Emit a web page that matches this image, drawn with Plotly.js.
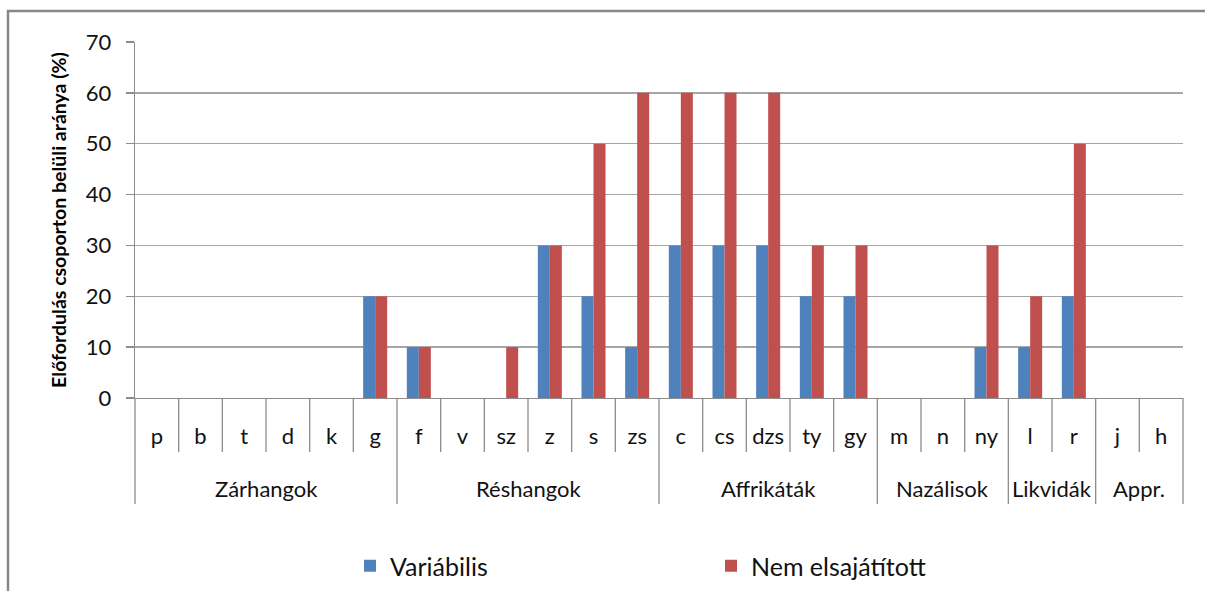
<!DOCTYPE html>
<html>
<head>
<meta charset="utf-8">
<script src="https://cdn.plot.ly/plotly-3.0.1.min.js"></script>
<style>html,body{margin:0;padding:0;background:#fff;}#chart{width:1205px;height:591px;}</style>
</head>
<body>
<div id="chart"></div>
<script>
const categories = ['p','b','t','d','k','g','f','v','sz','z','s','zs','c','cs','dzs','ty','gy','m','n','ny','l','r','j','h'];
const groups = ['Zárhangok','Réshangok','Affrikáták','Nazálisok','Likvidák','Appr.'];
const groupSizes = [6,6,5,3,2,2];
const variabilis = [0,0,0,0,0,20, 10,0,0,30,20,10, 30,30,30,20,20, 0,0,10, 10,20, 0,0];
const nemElsajatitott = [0,0,0,0,0,20, 10,0,10,30,50,60, 60,60,60,30,30, 0,0,30, 20,50, 0,0];
const seriesNames = ['Variábilis','Nem elsajátított'];

const FONT = 'Lato, "Open Sans", sans-serif';
const idx = categories.map((c,i)=>i);
const L=135, R=1183, T=42, B=398;
const plotW = R-L, plotH = B-T;
const px2y = p => (B-p)/plotH;
const px2x = p => (p-L)/plotW;

const shapes = [];
const lineColor = '#8c8c8c';
const bounds = [0];
groupSizes.reduce((a,s)=>{bounds.push(a+s);return a+s;},0);
const n = categories.length;
for(let i=0;i<=n;i++){
  const isGroup = bounds.includes(i);
  shapes.push({type:'line', xref:'paper', yref:'paper',
    x0:i/n, x1:i/n, y0:0, y1: isGroup ? -106/plotH : -54/plotH,
    line:{color:lineColor, width:1.3}});
}
// outer border
shapes.push({type:'rect', xref:'paper', yref:'paper', x0:px2x(8), x1:px2x(1260), y0:px2y(640), y1:px2y(11),
  line:{color:'#878787', width:2.5}, fillcolor:'rgba(0,0,0,0)'});

const annotations = [];
let start=0;
groups.forEach((g,k)=>{
  const c = start + (groupSizes[k]-1)/2;
  annotations.push({x:c, xref:'x', y:0, yref:'paper', yshift:-90, text:g, showarrow:false,
    font:{family:FONT, size:22, color:'#111'}, yanchor:'middle', xanchor:'center'});
  start += groupSizes[k];
});

const data = [
  {type:'bar', name:seriesNames[0], x:idx, y:variabilis, marker:{color:'#4F81BD', line:{width:0}}},
  {type:'bar', name:seriesNames[1], x:idx, y:nemElsajatitott, marker:{color:'#C0504D', line:{width:0}}}
];

const layout = {
  width:1205, height:591,
  margin:{l:L, r:1205-R, t:T, b:591-B, pad:0, autoexpand:false},
  paper_bgcolor:'#fff', plot_bgcolor:'#fff',
  barmode:'group', bargap:0.45, bargroupgap:0,
  showlegend:true,
  legend:{orientation:'h', x:px2x(350), xanchor:'left', y:px2y(566), yanchor:'middle',
    font:{family:FONT, size:25, color:'#111'}, entrywidth:316, entrywidthmode:'pixels',
    bgcolor:'rgba(0,0,0,0)', traceorder:'normal'},
  xaxis:{range:[-0.5, n-0.5], tickvals:idx, ticktext:categories, automargin:false,
    ticks:'', showgrid:false, zeroline:false, showline:true, linecolor:lineColor, linewidth:1.3,
    tickfont:{family:FONT, size:22, color:'#111'}, ticklabelstandoff:18, fixedrange:true},
  yaxis:{range:[0,70], dtick:10, tick0:0, ticks:'outside', ticklen:8, tickcolor:lineColor, tickwidth:1.3,
    showline:true, linecolor:lineColor, linewidth:1.3, showgrid:true, gridcolor:'#a6a6a6', gridwidth:1.3,
    zeroline:false, tickfont:{family:FONT, size:22, color:'#111'}, ticklabelstandoff:10, automargin:false,
    title:{text:'Előfordulás csoporton belüli aránya (%)', font:{family:FONT, size:19.5, color:'#000', weight:'bold'}, standoff:14},
    fixedrange:true},
  shapes:shapes, annotations:annotations
};
Plotly.newPlot('chart', data, layout, {displayModeBar:false, staticPlot:true});
</script>
</body>
</html>
